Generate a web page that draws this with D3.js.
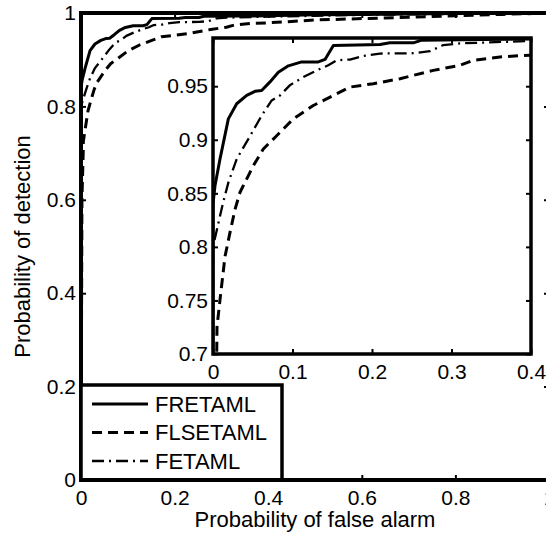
<!DOCTYPE html>
<html><head><meta charset="utf-8">
<script src="https://cdn.jsdelivr.net/npm/d3@7"></script>
<style>
body{margin:0;background:#fff;}
text{font-family:"Liberation Sans",Arial,Helvetica,sans-serif;fill:#000;}
</style></head>
<body><svg id="c" width="546" height="540"></svg>
<script>
// ---- data ----
const seriesNames = ["FRETAML","FLSETAML","FETAML"];
const fretamlX = [0,0,0.0025,0.0088,0.0193,0.0298,0.0424,0.0528,0.0612,0.0717,0.0822,0.0948,0.1115,0.1325,0.1409,0.1514,0.21,0.2226,0.252,0.2625,0.34,0.399,0.5,0.6,0.8,1];
const fretamlY = [0,0.84,0.857,0.882,0.9195,0.9336,0.9414,0.9452,0.946,0.954,0.963,0.969,0.9727,0.9727,0.975,0.988,0.989,0.9905,0.9905,0.993,0.9936,0.994,0.996,0.997,0.999,1];
const flsetamlX = [0,0.002,0.0047,0.005,0.0088,0.0151,0.0214,0.0277,0.034,0.0507,0.0633,0.0801,0.101,0.1262,0.1513,0.1723,0.2016,0.2352,0.2771,0.3107,0.3274,0.361,0.3987,0.45,0.5,0.6,0.7,0.8,0.9,1];
const flsetamlY = [0,0.6,0.701,0.725,0.7507,0.791,0.8135,0.835,0.851,0.8757,0.8914,0.9038,0.9195,0.932,0.9414,0.9492,0.9523,0.957,0.9648,0.9695,0.9742,0.9773,0.979,0.982,0.985,0.988,0.991,0.994,0.997,1];
const fetamlX = [0,0,0.0122,0.0193,0.0298,0.0457,0.0612,0.0738,0.0843,0.0969,0.1136,0.1304,0.145,0.1556,0.1723,0.1891,0.21,0.252,0.273,0.2897,0.3107,0.3987,0.5,0.6,0.8,1];
const fetamlY = [0,0.8,0.8398,0.86,0.882,0.9023,0.9226,0.9367,0.9414,0.951,0.9585,0.9648,0.9695,0.9742,0.9749,0.9783,0.9805,0.9808,0.9827,0.9884,0.99,0.9922,0.994,0.996,0.998,1];
const mainTicks = [0,0.2,0.4,0.6,0.8,1];
const insetXTicks = [0,0.1,0.2,0.3,0.4];
const insetYTicks = [0.7,0.75,0.8,0.85,0.9,0.95];
const xLabel = "Probability of false alarm";
const yLabel = "Probability of detection";

// ---- setup ----
const svg = d3.select("#c");
const styles = [
  {dash:null, w:3},
  {dash:"10,6", w:3},
  {dash:"12,5,2,5", w:2.3}
];
const series = [
  fretamlX.map((x,i)=>[x,fretamlY[i]]),
  flsetamlX.map((x,i)=>[x,flsetamlY[i]]),
  fetamlX.map((x,i)=>[x,fetamlY[i]])
];

const xM = d3.scaleLinear([0,1],[81,549]);
const yM = d3.scaleLinear([0,1],[480,13]);
const xI = d3.scaleLinear([0,0.4],[213,531]);
const yI = d3.scaleLinear([0.7,0.995],[354,38]);

const defs = svg.append("defs");
defs.append("clipPath").attr("id","cm").append("rect")
  .attr("x",xM(0)).attr("y",yM(1)).attr("width",xM(1)-xM(0)).attr("height",yM(0)-yM(1));
defs.append("clipPath").attr("id","ci").append("rect")
  .attr("x",xI(0)).attr("y",yI(0.995)).attr("width",xI(0.4)-xI(0)).attr("height",yI(0.7)-yI(0.995));

function drawCurves(g, xs, ys, clip){
  const line = d3.line().x(d=>xs(d[0])).y(d=>ys(d[1]));
  const cg = g.append("g").attr("clip-path",`url(#${clip})`);
  series.forEach((s,i)=>{
    cg.append("path").attr("d",line(s)).attr("fill","none")
      .attr("stroke","#000").attr("stroke-width",styles[i].w)
      .attr("stroke-dasharray",styles[i].dash)
      .attr("stroke-linejoin","round");
  });
}

function drawAxes(g, xs, ys, xt, yt, fmtX, fmtY, boxW){
  const [x0,x1] = xs.range(), [y0,y1] = ys.range();
  const fs = "21px";
  const b = g.append("g").attr("transform",`translate(0,${y0})`)
    .call(d3.axisBottom(xs).tickValues(xt).tickFormat(fmtX).tickSizeInner(-5).tickSizeOuter(0).tickPadding(10));
  const t = g.append("g").attr("transform",`translate(0,${y1})`)
    .call(d3.axisTop(xs).tickValues(xt).tickFormat("").tickSizeInner(-5).tickSizeOuter(0));
  const l = g.append("g").attr("transform",`translate(${x0},0)`)
    .call(d3.axisLeft(ys).tickValues(yt).tickFormat(fmtY).tickSizeInner(-5).tickSizeOuter(0).tickPadding(5));
  const r = g.append("g").attr("transform",`translate(${x1},0)`)
    .call(d3.axisRight(ys).tickValues(yt).tickFormat("").tickSizeInner(-5).tickSizeOuter(0));
  [b,t,l,r].forEach(a=>{
    a.select(".domain").remove();
    a.selectAll("line").attr("stroke","#000").attr("stroke-width",2);
    a.selectAll("text").style("font-size",fs).attr("fill","#000");
  });
  g.append("rect").attr("x",x0).attr("y",y1).attr("width",x1-x0).attr("height",y0-y1)
    .attr("fill","none").attr("stroke","#000").attr("stroke-width",boxW);
}

// main axes
const gm = svg.append("g");
drawCurves(gm, xM, yM, "cm");
drawAxes(gm, xM, yM, mainTicks, mainTicks, d3.format("~g"), d3.format("~g"), 4);

// axis labels
svg.append("text").attr("x",(xM(0)+xM(1))/2).attr("y",527).attr("text-anchor","middle")
  .style("font-size","22px").text(xLabel);
svg.append("text").attr("transform",`translate(30,${(yM(0)+yM(1))/2}) rotate(-90)`)
  .attr("text-anchor","middle").style("font-size","22px").text(yLabel);

// inset
const gi = svg.append("g");
gi.append("rect").attr("x",xI(0)).attr("y",yI(0.995)).attr("width",xI(0.4)-xI(0)).attr("height",yI(0.7)-yI(0.995)).attr("fill","#fff");
drawCurves(gi, xI, yI, "ci");
drawAxes(gi, xI, yI, insetXTicks, insetYTicks, d3.format("~g"), d3.format("~g"), 3.5);

// legend
const lg = svg.append("g");
const lx0 = 81, ly0 = 385, lw = 201, lh = 95;
lg.append("rect").attr("x",lx0).attr("y",ly0).attr("width",lw).attr("height",lh)
  .attr("fill","#fff").attr("stroke","#000").attr("stroke-width",3.5);
seriesNames.forEach((n,i)=>{
  const yy = 404 + i*28.5;
  lg.append("line").attr("x1",92).attr("x2",148).attr("y1",yy).attr("y2",yy)
    .attr("stroke","#000").attr("stroke-width",styles[i].w).attr("stroke-dasharray",styles[i].dash);
  lg.append("text").attr("x",155).attr("y",yy).attr("dy","0.36em").style("font-size","22px").text(n);
});
// redraw main bottom edge over legend
svg.append("line").attr("x1",xM(0)-2).attr("x2",xM(1)).attr("y1",yM(0)).attr("y2",yM(0)).attr("stroke","#000").attr("stroke-width",4);
</script></body></html>
